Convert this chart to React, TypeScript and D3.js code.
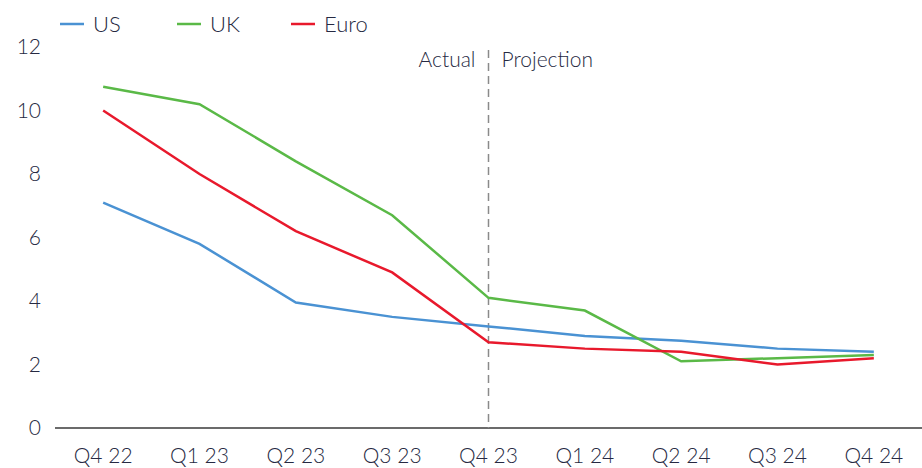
import React, { useRef, useEffect } from 'react'
import * as d3 from 'd3'

const quarters = ['Q4 22', 'Q1 23', 'Q2 23', 'Q3 23', 'Q4 23', 'Q1 24', 'Q2 24', 'Q3 24', 'Q4 24']
const us = [7.1, 5.8, 3.95, 3.5, 3.2, 2.9, 2.75, 2.5, 2.4]
const uk = [10.75, 10.2, 8.4, 6.7, 4.1, 3.7, 2.1, 2.2, 2.3]
const euro = [10.0, 8.0, 6.2, 4.9, 2.7, 2.5, 2.4, 2.0, 2.2]
const yTicks = [0, 2, 4, 6, 8, 10, 12]
const seriesNames = ['US', 'UK', 'Euro']
const colors = ['#4a92d3', '#5ab947', '#e8192c']
const splitQuarter = 'Q4 23'

const W = 922
const H = 468
const textColor = '#262942'
const font = 'Lato, "Open Sans", sans-serif'

const App = () => {
  const svgRef = useRef<SVGSVGElement>(null)

  useEffect(() => {
    const svg = d3.select(svgRef.current)
    svg.selectAll('*').remove()

    const x = d3.scaleBand<string>().domain(quarters).range([55, 922]).padding(0)
    const y = d3.scaleLinear().domain([0, 12]).range([428, 47])
    const cx = (q: string) => (x(q) as number) + x.bandwidth() / 2

    const label = (sel: any, size = 21) => sel
      .attr('font-family', font)
      .attr('font-weight', 300)
      .attr('font-size', size)
      .attr('fill', textColor)

    // y labels
    svg.append('g')
      .selectAll('text')
      .data(yTicks)
      .join('text')
      .attr('x', 41)
      .attr('y', d => y(d))
      .attr('dy', '0.35em')
      .attr('text-anchor', 'end')
      .call(label)
      .text(d => d)

    // x axis
    svg.append('line')
      .attr('x1', 55).attr('x2', 922)
      .attr('y1', y(0)).attr('y2', y(0))
      .attr('stroke', '#3a3a3a')
      .attr('stroke-width', 1.5)

    svg.append('g')
      .selectAll('text')
      .data(quarters)
      .join('text')
      .attr('x', d => cx(d))
      .attr('y', 456)
      .attr('dy', '0.35em')
      .attr('text-anchor', 'middle')
      .call(label)
      .text(d => d)

    // actual / projection divider
    const sx = cx(splitQuarter)
    svg.append('line')
      .attr('x1', sx).attr('x2', sx)
      .attr('y1', 50).attr('y2', y(0))
      .attr('stroke', '#8a8a8a')
      .attr('stroke-width', 1.5)
      .attr('stroke-dasharray', '8,5')
    svg.append('text')
      .attr('x', sx - 13).attr('y', 60)
      .attr('dy', '0.35em')
      .attr('text-anchor', 'end')
      .call(label)
      .text('Actual')
    svg.append('text')
      .attr('x', sx + 13).attr('y', 60)
      .attr('dy', '0.35em')
      .call(label)
      .text('Projection')

    // lines
    const line = d3.line<number>()
      .x((d, i) => cx(quarters[i]))
      .y(d => y(d))
    const allSeries = [us, uk, euro]
    allSeries.forEach((s, i) => {
      svg.append('path')
        .datum(s)
        .attr('d', line)
        .attr('fill', 'none')
        .attr('stroke', colors[i])
        .attr('stroke-width', 2.5)
    })

    // legend
    const legendX = [60, 177, 291]
    const lg = svg.append('g')
    seriesNames.forEach((name, i) => {
      lg.append('line')
        .attr('x1', legendX[i]).attr('x2', legendX[i] + 24)
        .attr('y1', 24).attr('y2', 24)
        .attr('stroke', colors[i])
        .attr('stroke-width', 2.5)
      lg.append('text')
        .attr('x', legendX[i] + 33).attr('y', 24)
        .attr('dy', '0.35em')
        .call(label, 22)
        .text(name)
    })
  }, [])

  return (
    <svg ref={svgRef} width={W} height={H} style={{ position: 'absolute', left: 0, top: 0 }} />
  )
}

export default App
